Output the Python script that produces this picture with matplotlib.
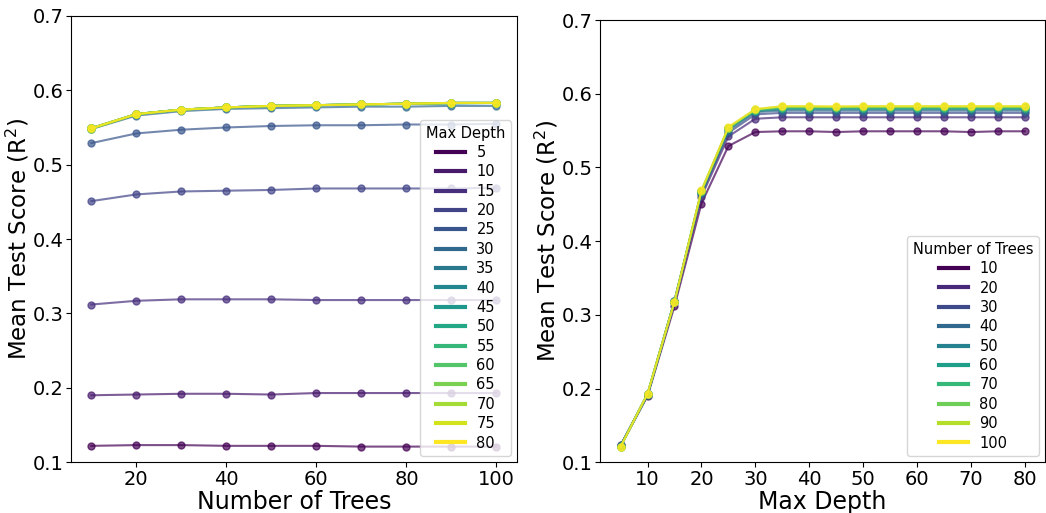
import numpy as np
import matplotlib
matplotlib.use('Agg')
import matplotlib.pyplot as plt
from matplotlib.lines import Line2D

n_trees = [10, 20, 30, 40, 50, 60, 70, 80, 90, 100]
max_depths = [5, 10, 15, 20, 25, 30, 35, 40, 45, 50, 55, 60, 65, 70, 75, 80]

# mean test score, one row per max depth, one column per number of trees
scores = np.array([
    [0.122, 0.123, 0.123, 0.122, 0.122, 0.122, 0.121, 0.121, 0.121, 0.121],  # 5
    [0.190, 0.191, 0.192, 0.192, 0.191, 0.193, 0.193, 0.193, 0.193, 0.193],  # 10
    [0.312, 0.317, 0.319, 0.319, 0.319, 0.318, 0.318, 0.318, 0.318, 0.318],  # 15
    [0.451, 0.460, 0.464, 0.465, 0.466, 0.468, 0.468, 0.468, 0.468, 0.469],  # 20
    [0.529, 0.542, 0.547, 0.550, 0.552, 0.553, 0.553, 0.554, 0.554, 0.555],  # 25
    [0.548, 0.566, 0.572, 0.575, 0.576, 0.577, 0.578, 0.578, 0.579, 0.579],  # 30
    [0.549, 0.568, 0.574, 0.577, 0.579, 0.580, 0.581, 0.582, 0.583, 0.583],  # 35
    [0.549, 0.568, 0.574, 0.577, 0.579, 0.580, 0.581, 0.582, 0.583, 0.583],  # 40
    [0.548, 0.568, 0.574, 0.577, 0.579, 0.580, 0.581, 0.582, 0.582, 0.583],  # 45
    [0.549, 0.568, 0.574, 0.577, 0.579, 0.580, 0.581, 0.582, 0.583, 0.583],  # 50
    [0.549, 0.568, 0.574, 0.577, 0.579, 0.580, 0.581, 0.582, 0.583, 0.583],  # 55
    [0.549, 0.568, 0.574, 0.577, 0.579, 0.580, 0.581, 0.582, 0.583, 0.583],  # 60
    [0.549, 0.568, 0.574, 0.577, 0.579, 0.580, 0.581, 0.582, 0.583, 0.583],  # 65
    [0.548, 0.568, 0.574, 0.577, 0.579, 0.580, 0.581, 0.582, 0.583, 0.583],  # 70
    [0.549, 0.568, 0.574, 0.577, 0.579, 0.580, 0.581, 0.582, 0.583, 0.583],  # 75
    [0.549, 0.568, 0.574, 0.577, 0.579, 0.580, 0.581, 0.582, 0.583, 0.583],  # 80
])

fig = plt.figure(figsize=(10.46, 5.13), dpi=100)
ax1 = fig.add_axes([0.068, 0.099, 0.426, 0.870])
ax2 = fig.add_axes([0.574, 0.099, 0.425, 0.862])

cmap = plt.get_cmap('viridis')

# left: score vs number of trees, one line per depth
handles = []
for i, d in enumerate(max_depths):
    c = cmap(i / (len(max_depths) - 1))
    ax1.plot(n_trees, scores[i], marker='o', ms=5, lw=1.5, color=c, alpha=0.7)
    handles.append(Line2D([], [], color=c, lw=3))
ax1.legend(handles, [str(d) for d in max_depths], title='Max Depth',
           loc='lower right', fontsize=10.5, title_fontsize=10.5, labelspacing=0.3,
           borderaxespad=0.4)

# right: score vs max depth, one line per number of trees
handles = []
for j, t in enumerate(n_trees):
    c = cmap(j / (len(n_trees) - 1))
    ax2.plot(max_depths, scores[:, j], marker='o', ms=5, lw=1.5, color=c, alpha=0.7)
    handles.append(Line2D([], [], color=c, lw=3))
ax2.legend(handles, [str(t) for t in n_trees], title='Number of Trees',
           loc='lower right', fontsize=10.5, title_fontsize=10.5, labelspacing=0.3,
           borderaxespad=0.4)
ax2.set_xticks(max_depths[1::2])

for ax, xl in [(ax1, 'Number of Trees'), (ax2, 'Max Depth')]:
    ax.set_ylim(0.1, 0.7)
    ax.set_xlabel(xl, fontsize=17, labelpad=1)
    ax.set_ylabel('Mean Test Score (R$^2$)', fontsize=16.5, labelpad=1)
    ax.tick_params(labelsize=14, pad=2)

fig.savefig('out.png', dpi=100)
